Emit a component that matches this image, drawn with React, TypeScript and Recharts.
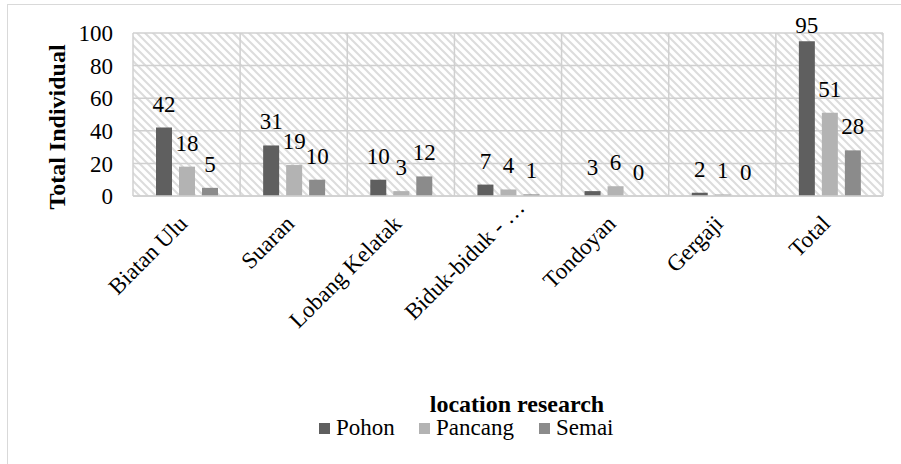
import React from 'react';
import { BarChart, Bar, XAxis, YAxis, CartesianGrid, Legend, LabelList } from 'recharts';

const categories = ['Biatan Ulu', 'Suaran', 'Lobang Kelatak', 'Biduk-biduk - …', 'Tondoyan', 'Gergaji', 'Total'];
const pohon = [42, 31, 10, 7, 3, 2, 95];
const pancang = [18, 19, 3, 4, 6, 1, 51];
const semai = [5, 10, 12, 1, 0, 0, 28];
const yTicks = [0, 20, 40, 60, 80, 100];
const seriesNames = ['Pohon', 'Pancang', 'Semai'];
const seriesColors = ['#5f5f5f', '#b3b3b3', '#8b8b8b'];
const xAxisTitle = 'location research';
const yAxisTitle = 'Total Individual';

const data = categories.map((c, i) => ({ name: c, Pohon: pohon[i], Pancang: pancang[i], Semai: semai[i] }));

const FONT = 'Liberation Serif, Times New Roman, serif';
const PLOT_TOP = 33;
const textStyle = { fontFamily: FONT };

const ValueLabel = (props: any) => {
  const { x, y, width, value } = props;
  const by = Math.max(Number(y) - 16, PLOT_TOP);
  return (
    <text x={Number(x) + Number(width) / 2} y={by} textAnchor="middle" style={textStyle} fontSize={23} fill="#000">
      {value}
    </text>
  );
};

const XTick = (props: any) => {
  const { x, y, payload } = props;
  const label = String(payload.value);
  // truncated labels (ending with an ellipsis) sit a little further along their direction
  const shift = label.endsWith('…') ? 16 : 0;
  const ax = Number(x) + 2 + shift;
  const ay = Number(y) + 29 - shift;
  return (
    <text x={ax} y={ay} transform={`rotate(-45, ${ax}, ${ay})`} textAnchor="end" style={textStyle} fontSize={23} fill="#000">
      {label}
    </text>
  );
};

const YTitle = () => (
  <text x={65} y={127} transform="rotate(-90, 65, 127)" textAnchor="middle" style={textStyle} fontSize={24} fontWeight="bold" fill="#000">
    {yAxisTitle}
  </text>
);

const legendX = [319, 419, 539];

const LegendContent = () => (
  <svg width={901} height={62} style={{ display: 'block' }}>
    <text x={517} y={29} textAnchor="middle" style={textStyle} fontSize={24} fontWeight="bold" fill="#000">
      {xAxisTitle}
    </text>
    {seriesNames.map((n, i) => (
      <g key={n}>
        <rect x={legendX[i]} y={40} width={11} height={11} fill={seriesColors[i]} />
        <text x={legendX[i] + 17} y={52} style={textStyle} fontSize={23} fill="#000">
          {n}
        </text>
      </g>
    ))}
  </svg>
);

export default function App() {
  return (
    <div style={{ position: 'absolute', left: 0, top: 0, width: 901, height: 464, background: '#fff', overflow: 'hidden', fontFamily: FONT }}>
      <svg width={0} height={0} style={{ position: 'absolute' }}>
        <defs>
          <pattern id="hatch" patternUnits="userSpaceOnUse" width={8} height={8}>
            <rect width={8} height={8} fill="#fff" />
            <path d="M-2,-2 L10,10 M-2,6 L2,10 M6,-2 L10,2" stroke="#dcdcdc" strokeWidth={2} />
          </pattern>
        </defs>
      </svg>
      <div
        style={{
          position: 'absolute',
          left: 7,
          top: 4,
          width: 900,
          height: 470,
          borderTop: '1.5px solid #d9d9d9',
          borderLeft: '1.5px solid #d9d9d9',
        }}
      />
      <div style={{ position: 'absolute', left: 0, top: 0 }}>
        <BarChart
          width={901}
          height={464}
          data={data}
          margin={{ top: PLOT_TOP, right: 18, left: 0, bottom: 0 }}
          barSize={16}
          barGap={7}
          style={{ fontFamily: FONT }}
        >
          <CartesianGrid
            fill="url(#hatch)"
            stroke="#d0d0d0"
            strokeWidth={1.5}
            verticalCoordinatesGenerator={({ offset }: any) =>
              categories.map((_, i) => offset.left + (i * offset.width) / categories.length).concat(offset.left + offset.width)
            }
          />
          <XAxis
            dataKey="name"
            interval={0}
            tickLine={false}
            tickSize={0}
            tickMargin={0}
            axisLine={{ stroke: '#d0d0d0', strokeWidth: 1.5 }}
            height={206}
            tick={(p: any) => <XTick {...p} />}
          />
          <YAxis
            domain={[0, 100]}
            ticks={yTicks}
            interval={0}
            axisLine={false}
            tickLine={false}
            tickSize={0}
            tickMargin={20}
            width={133}
            tick={{ fontFamily: FONT, fontSize: 23, fill: '#000', style: textStyle }}
            label={<YTitle />}
          />
          <Legend content={<LegendContent />} wrapperStyle={{ left: 0, top: 383, width: 901, height: 62 }} />
          {seriesNames.map((n, i) => (
            <Bar key={n} dataKey={n} fill={seriesColors[i]} minPointSize={0.01} isAnimationActive={false}>
              <LabelList dataKey={n} content={ValueLabel} />
            </Bar>
          ))}
        </BarChart>
      </div>
    </div>
  );
}
